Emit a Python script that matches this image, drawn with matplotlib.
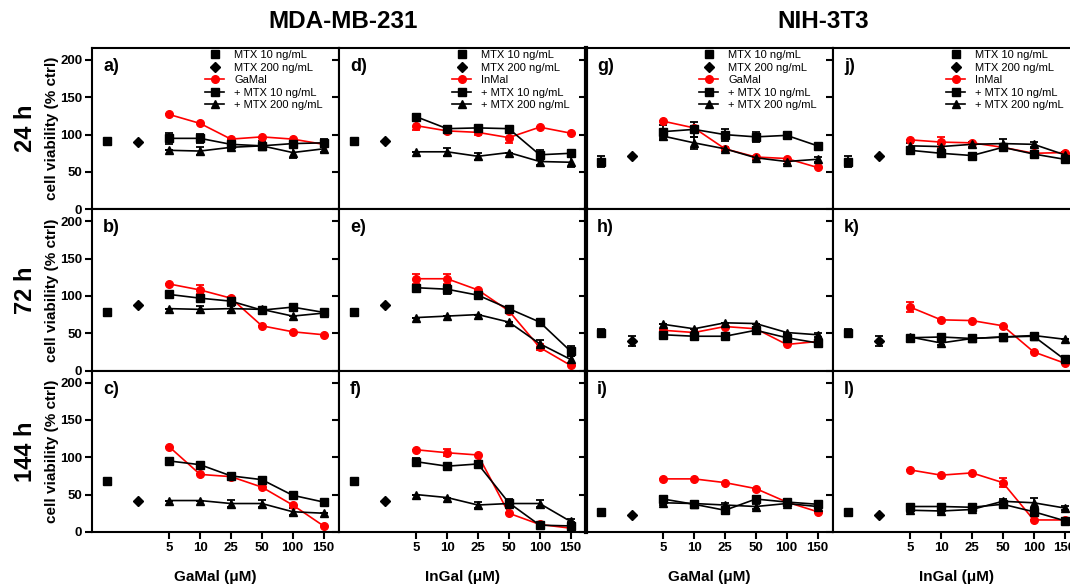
import numpy as np
import matplotlib
matplotlib.use('Agg')
import matplotlib.pyplot as plt
from matplotlib.lines import Line2D

plt.rcParams['font.family'] = ['Liberation Sans', 'DejaVu Sans']

# x categories: two MTX-only controls, then the drug doses
doses = ['5', '10', '25', '50', '100', '150']
ctrl_names = ['MTX 10 ng/mL', 'MTX 200 ng/mL']
row_names = ['24 h', '72 h', '144 h']
col_drugs = ['GaMal', 'InMal', 'GaMal', 'InMal']
col_xlabels = ['GaMal (\u03bcM)', 'InGal (\u03bcM)', 'GaMal (\u03bcM)', 'InGal (\u03bcM)']
cell_lines = ['MDA-MB-231', 'NIH-3T3']

# MDA-MB-231, GaMal
a_ctrl = [91, 90]; a_ctrl_err = [3, 0]
a_drug = [127, 115, 94, 97, 94, 87]; a_drug_err = [0, 0, 0, 0, 0, 0]
a_mtx10 = [95, 95, 87, 85, 88, 89]; a_mtx10_err = [7, 6, 4, 6, 5, 5]
a_mtx200 = [79, 78, 83, 85, 76, 81]; a_mtx200_err = [0, 5, 3, 3, 7, 4]

b_ctrl = [78, 88]; b_ctrl_err = [5, 0]
b_drug = [116, 108, 97, 60, 52, 48]; b_drug_err = [0, 6, 0, 0, 0, 0]
b_mtx10 = [102, 97, 93, 81, 85, 78]; b_mtx10_err = [0, 4, 5, 0, 0, 3]
b_mtx200 = [83, 82, 83, 82, 73, 77]; b_mtx200_err = [0, 5, 4, 0, 0, 0]

c_ctrl = [68, 41]; c_ctrl_err = [0, 0]
c_drug = [114, 77, 74, 60, 36, 8]; c_drug_err = [0, 0, 0, 0, 0, 0]
c_mtx10 = [95, 90, 75, 70, 49, 40]; c_mtx10_err = [4, 0, 3, 3, 0, 0]
c_mtx200 = [42, 42, 38, 38, 27, 25]; c_mtx200_err = [0, 0, 5, 5, 5, 0]

# MDA-MB-231, InMal
d_ctrl = [91, 91]; d_ctrl_err = [0, 0]
d_drug = [112, 105, 103, 96, 110, 102]; d_drug_err = [6, 3, 3, 7, 0, 0]
d_mtx10 = [124, 108, 109, 108, 73, 75]; d_mtx10_err = [3, 3, 3, 3, 7, 5]
d_mtx200 = [77, 77, 71, 76, 64, 63]; d_mtx200_err = [0, 5, 5, 0, 5, 7]

e_ctrl = [78, 88]; e_ctrl_err = [5, 0]
e_drug = [123, 123, 108, 80, 31, 7]; e_drug_err = [7, 7, 0, 0, 4, 0]
e_mtx10 = [111, 109, 101, 83, 65, 26]; e_mtx10_err = [4, 6, 3, 0, 0, 7]
e_mtx200 = [71, 73, 75, 65, 36, 15]; e_mtx200_err = [0, 0, 0, 0, 5, 5]

f_ctrl = [68, 41]; f_ctrl_err = [0, 0]
f_drug = [110, 106, 103, 25, 10, 5]; f_drug_err = [0, 5, 0, 0, 0, 0]
f_mtx10 = [94, 88, 91, 39, 9, 8]; f_mtx10_err = [5, 3, 4, 5, 3, 5]
f_mtx200 = [50, 46, 36, 38, 38, 14]; f_mtx200_err = [0, 0, 4, 0, 5, 3]

# NIH-3T3, GaMal
g_ctrl = [64, 72]; g_ctrl_err = [8, 0]
g_drug = [118, 109, 81, 70, 68, 56]; g_drug_err = [0, 0, 0, 0, 0, 0]
g_mtx10 = [104, 107, 100, 97, 99, 85]; g_mtx10_err = [9, 10, 8, 7, 4, 0]
g_mtx200 = [98, 89, 81, 69, 64, 67]; g_mtx200_err = [5, 8, 3, 3, 3, 3]

h_ctrl = [51, 40]; h_ctrl_err = [5, 7]
h_drug = [54, 51, 59, 56, 35, 39]; h_drug_err = [0, 0, 0, 0, 0, 0]
h_mtx10 = [48, 46, 46, 54, 44, 37]; h_mtx10_err = [3, 3, 0, 3, 3, 4]
h_mtx200 = [62, 56, 64, 63, 51, 48]; h_mtx200_err = [0, 0, 0, 0, 0, 3]

i_ctrl = [27, 23]; i_ctrl_err = [0, 0]
i_drug = [71, 71, 66, 58, 40, 27]; i_drug_err = [0, 0, 0, 0, 0, 0]
i_mtx10 = [44, 37, 29, 44, 40, 37]; i_mtx10_err = [4, 5, 5, 4, 3, 5]
i_mtx200 = [39, 38, 36, 34, 38, 34]; i_mtx200_err = [3, 3, 3, 3, 3, 3]

# NIH-3T3, InMal
j_ctrl = [64, 72]; j_ctrl_err = [8, 0]
j_drug = [93, 90, 89, 83, 75, 76]; j_drug_err = [0, 7, 0, 0, 0, 0]
j_mtx10 = [79, 75, 72, 83, 74, 67]; j_mtx10_err = [4, 4, 3, 4, 4, 4]
j_mtx200 = [85, 84, 87, 88, 87, 73]; j_mtx200_err = [4, 3, 3, 6, 3, 4]

k_ctrl = [51, 40]; k_ctrl_err = [5, 7]
k_drug = [85, 68, 67, 60, 25, 10]; k_drug_err = [7, 0, 0, 0, 0, 0]
k_mtx10 = [44, 45, 43, 45, 46, 15]; k_mtx10_err = [0, 4, 0, 4, 5, 4]
k_mtx200 = [45, 37, 43, 45, 47, 42]; k_mtx200_err = [0, 3, 0, 0, 0, 0]

l_ctrl = [27, 23]; l_ctrl_err = [0, 0]
l_drug = [83, 76, 79, 66, 16, 16]; l_drug_err = [0, 0, 0, 6, 0, 0]
l_mtx10 = [34, 34, 33, 37, 27, 15]; l_mtx10_err = [3, 3, 3, 3, 5, 3]
l_mtx200 = [29, 28, 30, 41, 39, 32]; l_mtx200_err = [3, 3, 3, 3, 7, 3]

panels = [
    ('a', 0, 0, a_ctrl, a_ctrl_err, a_drug, a_drug_err, a_mtx10, a_mtx10_err, a_mtx200, a_mtx200_err),
    ('b', 1, 0, b_ctrl, b_ctrl_err, b_drug, b_drug_err, b_mtx10, b_mtx10_err, b_mtx200, b_mtx200_err),
    ('c', 2, 0, c_ctrl, c_ctrl_err, c_drug, c_drug_err, c_mtx10, c_mtx10_err, c_mtx200, c_mtx200_err),
    ('d', 0, 1, d_ctrl, d_ctrl_err, d_drug, d_drug_err, d_mtx10, d_mtx10_err, d_mtx200, d_mtx200_err),
    ('e', 1, 1, e_ctrl, e_ctrl_err, e_drug, e_drug_err, e_mtx10, e_mtx10_err, e_mtx200, e_mtx200_err),
    ('f', 2, 1, f_ctrl, f_ctrl_err, f_drug, f_drug_err, f_mtx10, f_mtx10_err, f_mtx200, f_mtx200_err),
    ('g', 0, 2, g_ctrl, g_ctrl_err, g_drug, g_drug_err, g_mtx10, g_mtx10_err, g_mtx200, g_mtx200_err),
    ('h', 1, 2, h_ctrl, h_ctrl_err, h_drug, h_drug_err, h_mtx10, h_mtx10_err, h_mtx200, h_mtx200_err),
    ('i', 2, 2, i_ctrl, i_ctrl_err, i_drug, i_drug_err, i_mtx10, i_mtx10_err, i_mtx200, i_mtx200_err),
    ('j', 0, 3, j_ctrl, j_ctrl_err, j_drug, j_drug_err, j_mtx10, j_mtx10_err, j_mtx200, j_mtx200_err),
    ('k', 1, 3, k_ctrl, k_ctrl_err, k_drug, k_drug_err, k_mtx10, k_mtx10_err, k_mtx200, k_mtx200_err),
    ('l', 2, 3, l_ctrl, l_ctrl_err, l_drug, l_drug_err, l_mtx10, l_mtx10_err, l_mtx200, l_mtx200_err),
]

W, H = 1070, 584
fig = plt.figure(figsize=(W / 100, H / 100), dpi=100)

x_ctrl = np.arange(len(ctrl_names))
x_dose = np.arange(len(doses)) + len(ctrl_names)
eb = dict(capsize=3, elinewidth=1.3, capthick=1.3)

for letter, r, c, ctrl, ctrl_err, drug, drug_err, m10, m10_err, m200, m200_err in panels:
    left, top, pw, ph = 92 + c * 247, 48 + r * 161.3, 247, 161.3
    ax = fig.add_axes([left / W, 1 - (top + ph) / H, pw / W, ph / H])

    ax.errorbar(x_ctrl[0], ctrl[0], yerr=ctrl_err[0], fmt='s', color='k', ms=6, **eb)
    ax.errorbar(x_ctrl[1], ctrl[1], yerr=ctrl_err[1], fmt='D', color='k', ms=5.5, **eb)
    ax.errorbar(x_dose, drug, yerr=drug_err, fmt='-o', color='red', ms=5.5, lw=1.2, **eb)
    ax.errorbar(x_dose, m10, yerr=m10_err, fmt='-s', color='k', ms=6, lw=1.2, **eb)
    ax.errorbar(x_dose, m200, yerr=m200_err, fmt='-^', color='k', ms=6, lw=1.2, **eb)

    ax.set_xlim(-0.5, 7.5)
    ax.set_ylim(0, 216)
    ax.set_xticks(x_dose)
    ax.set_yticks([0, 50, 100, 150, 200])
    ax.tick_params(direction='out', length=5, width=1.5, labelsize=9.5, pad=2)
    for lab in ax.get_xticklabels() + ax.get_yticklabels():
        lab.set_fontweight('bold')
    for s in ax.spines.values():
        s.set_linewidth(1.5)
    if c == 2:
        ax.spines['left'].set_linewidth(3)

    if r == 2:
        ax.set_xticklabels(doses)
        ax.set_xlabel(col_xlabels[c], fontsize=11, fontweight='bold', labelpad=12)
    else:
        ax.set_xticklabels([])
    if c == 0:
        ax.set_ylabel('cell viability (% ctrl)', fontsize=11, fontweight='bold', labelpad=1)
        fig.text(25 / W, 1 - (top + ph / 2) / H, row_names[r], rotation=90,
                 fontsize=17, fontweight='bold', ha='center', va='center')
    else:
        ax.set_yticklabels([])

    ax.text(0.045, 0.885, letter + ')', transform=ax.transAxes, fontsize=13,
            fontweight='bold', ha='left', va='center')

    if r == 0:
        handles = [
            Line2D([], [], marker='s', ls='none', color='k', ms=6),
            Line2D([], [], marker='D', ls='none', color='k', ms=5.5),
            Line2D([], [], marker='o', color='red', ms=5.5, lw=1.2),
            Line2D([], [], marker='s', color='k', ms=6, lw=1.2),
            Line2D([], [], marker='^', color='k', ms=6, lw=1.2),
        ]
        labels = ctrl_names + [col_drugs[c], '+ MTX 10 ng/mL', '+ MTX 200 ng/mL']
        ax.legend(handles, labels, loc='upper left', bbox_to_anchor=(0.45, 1.0),
                  frameon=False, fontsize=8, handlelength=1.7, handletextpad=0.9,
                  labelspacing=0.22, borderpad=0.2, borderaxespad=0)

fig.text(343 / W, 1 - 22 / H, cell_lines[0], fontsize=17.5, fontweight='bold', ha='center', va='center')
fig.text(823 / W, 1 - 22 / H, cell_lines[1], fontsize=17.5, fontweight='bold', ha='center', va='center')

fig.savefig('out.png', dpi=100)
